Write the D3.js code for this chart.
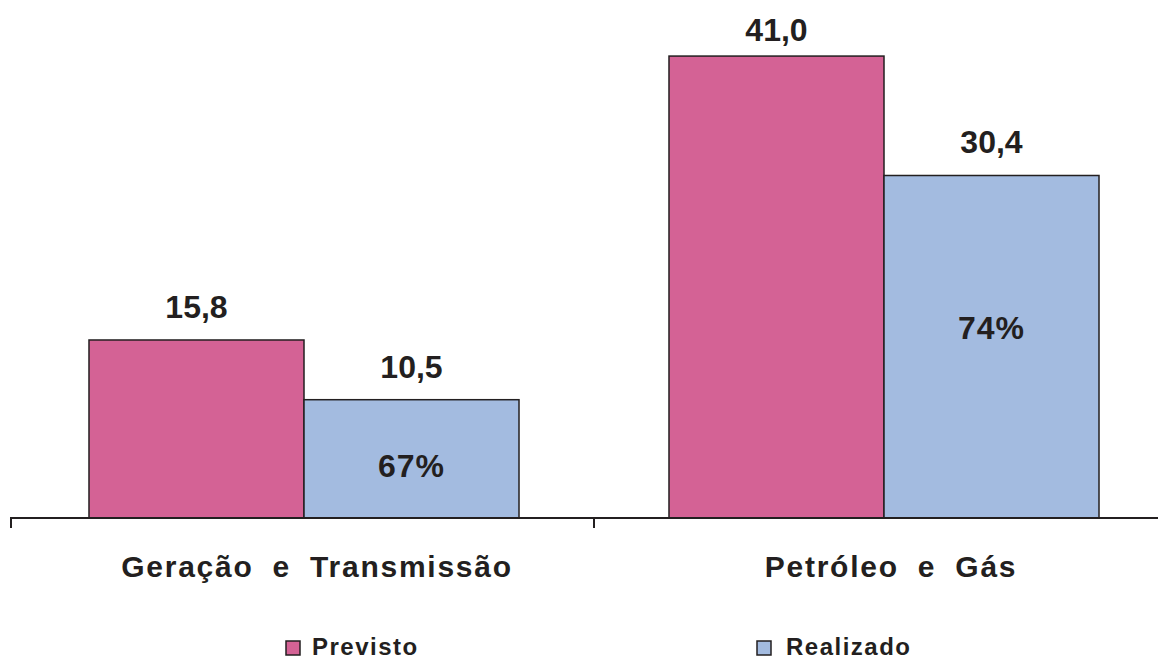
<!DOCTYPE html>
<html><head><meta charset="utf-8">
<script src="https://cdn.jsdelivr.net/npm/d3@7"></script>
<style>html,body{margin:0;padding:0;background:#fff}svg{display:block}</style>
</head><body>
<svg id="c" width="1158" height="659"></svg>
<script>
const categories = ["Geração e Transmissão", "Petróleo e Gás"];
const seriesNames = ["Previsto", "Realizado"];
const previsto = [15.8, 41.0];
const realizado = [10.5, 30.4];
const percentLabels = ["67%", "74%"];

const colors = {Previsto: "#D46295", Realizado: "#A3BBE0"};
const dark = "#231F20";
const font = "Liberation Sans, Arial, Helvetica, sans-serif";
const fmt = v => d3.format(".1f")(v).replace(".", ",");

const svg = d3.select("#c");
const baseY = 518;
const x0 = d3.scaleBand().domain(categories).range([14, 1174]).padding(0);
const gap = x0.bandwidth() * 0.1293;
const x1 = d3.scaleBand().domain(seriesNames).range([gap, x0.bandwidth() - gap]).padding(0);
const y = d3.scaleLinear().domain([0, 45]).range([baseY, 11]);

const data = categories.map((c, i) => ({cat: c, values: [
  {s: "Previsto", v: previsto[i]}, {s: "Realizado", v: realizado[i]}], pct: percentLabels[i]}));

const g = svg.selectAll("g.grp").data(data).join("g")
  .attr("transform", d => `translate(${x0(d.cat)},0)`);

g.selectAll("rect").data(d => d.values).join("rect")
  .attr("x", d => x1(d.s)).attr("width", x1.bandwidth())
  .attr("y", d => y(d.v)).attr("height", d => baseY - y(d.v))
  .attr("fill", d => colors[d.s]).attr("stroke", dark).attr("stroke-width", 1.5);

g.selectAll("text.val").data(d => d.values).join("text").attr("class", "val")
  .attr("x", d => x1(d.s) + x1.bandwidth() / 2).attr("y", d => Math.max(y(d.v) - 22, 41))
  .attr("text-anchor", "middle").attr("font-family", font)
  .attr("font-weight", "bold").attr("font-size", 32).attr("fill", dark)
  .text(d => fmt(d.v));

// percentage labels inside Realizado bars
const pctFrac = [0.44, 0.555];
g.append("text")
  .attr("x", x1("Realizado") + x1.bandwidth() / 2)
  .attr("y", (d, i) => y(d.values[1].v * pctFrac[i]) + 11.5)
  .attr("text-anchor", "middle").attr("font-family", font)
  .attr("font-weight", "bold").attr("font-size", 32).attr("letter-spacing", 1).attr("fill", dark)
  .text(d => d.pct);

// axis line and ticks
svg.append("line").attr("x1", 10).attr("x2", 1158).attr("y1", baseY).attr("y2", baseY)
  .attr("stroke", dark).attr("stroke-width", 2);
svg.selectAll("line.tk").data(categories).join("line").attr("class", "tk")
  .attr("x1", (d, i) => x0(d) - (i === 0 ? 3 : 0)).attr("x2", (d, i) => x0(d) - (i === 0 ? 3 : 0))
  .attr("y1", baseY).attr("y2", baseY + 10)
  .attr("stroke", dark).attr("stroke-width", 2);

const catShift = [13, 7];
svg.selectAll("text.cat").data(categories).join("text").attr("class", "cat")
  .attr("x", (d, i) => x0(d) + x0.bandwidth() / 2 + catShift[i]).attr("y", 577)
  .attr("text-anchor", "middle").attr("font-family", font)
  .attr("font-weight", "bold").attr("font-size", 30).attr("letter-spacing", 1.75)
  .attr("word-spacing", 9).attr("fill", dark)
  .text(d => d);

// legend
const legX = [286, 757];
const leg = svg.selectAll("g.leg").data(seriesNames).join("g").attr("class", "leg")
  .attr("transform", (d, i) => `translate(${legX[i]},641)`);
leg.append("rect").attr("width", 14).attr("height", 14)
  .attr("fill", d => colors[d]).attr("stroke", dark).attr("stroke-width", 1.5);
leg.append("text").attr("x", (d, i) => i === 0 ? 26 : 29).attr("y", 14)
  .attr("font-family", font).attr("font-weight", "bold")
  .attr("font-size", 24).attr("letter-spacing", 1.5).attr("fill", dark).text(d => d);
</script>
</body></html>
